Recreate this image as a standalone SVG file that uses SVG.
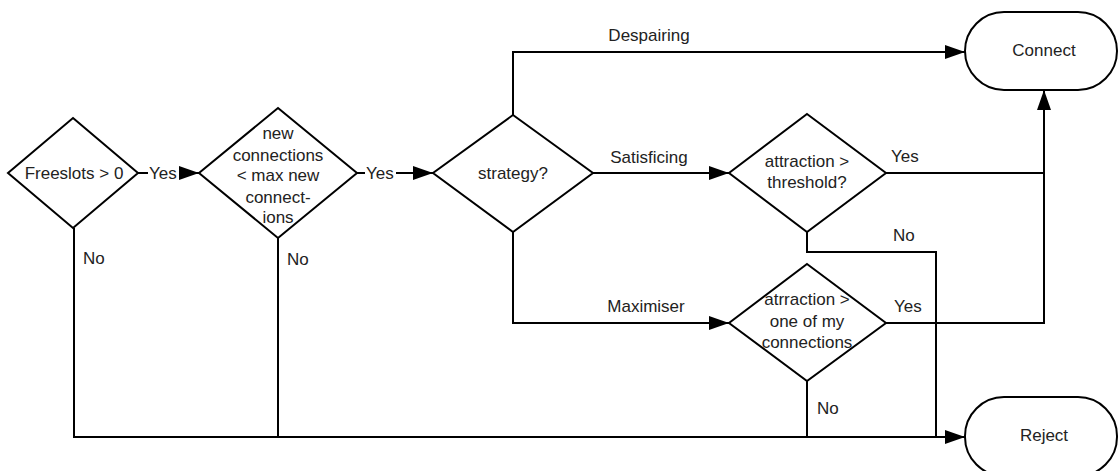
<svg xmlns="http://www.w3.org/2000/svg" width="1118" height="471" viewBox="0 0 1118 471">
  <style>
    .shape { fill: #ffffff; stroke: #000000; stroke-width: 2; }
    .edge { fill: none; stroke: #000000; stroke-width: 2; }
    text { font-family: "Liberation Sans", Arial, sans-serif; font-size: 17px; fill: #222222; }
    .c { text-anchor: middle; }
    .bg { fill: #ffffff; stroke: none; }
  </style>
  <defs>
    <marker id="arrow" viewBox="0 0 20 14" refX="20" refY="7" markerWidth="20" markerHeight="14" markerUnits="userSpaceOnUse" orient="auto">
      <path d="M0,0 L20,7 L0,14 Z" fill="#000000"/>
    </marker>
  </defs>
  <rect width="1118" height="471" fill="#ffffff"/>

  <g id="connectors">
    <!-- Freeslots -> new connections -->
    <path class="edge" d="M138,173 L199,173" marker-end="url(#arrow)"/>
    <!-- new connections -> strategy -->
    <path class="edge" d="M357,173 L433,173" marker-end="url(#arrow)"/>
    <!-- Despairing -->
    <path class="edge" d="M513,115 L513,52 L965,52" marker-end="url(#arrow)"/>
    <!-- Satisficing -->
    <path class="edge" d="M593,173 L729,173" marker-end="url(#arrow)"/>
    <!-- Maximiser -->
    <path class="edge" d="M513,232 L513,323 L729,323" marker-end="url(#arrow)"/>
    <!-- Yes branches into Connect -->
    <path class="edge" d="M886,173 L1044,173"/>
    <path class="edge" d="M886,323 L1044,323 L1044,90" marker-end="url(#arrow)"/>
    <!-- No from threshold -->
    <path class="edge" d="M807,232 L807,252 L936,252 L936,437"/>
    <!-- No from maximiser test -->
    <path class="edge" d="M807,381 L807,437"/>
    <!-- No from first two tests, shared line into Reject -->
    <path class="edge" d="M74,228 L74,437 L965,437" marker-end="url(#arrow)"/>
    <path class="edge" d="M278,238 L278,437"/>
    <!-- inline labels sit on the line over a white patch -->
    <rect class="bg" x="148" y="163" width="31" height="20"/>
    <text x="149" y="179">Yes</text>
    <rect class="bg" x="365" y="163" width="31" height="20"/>
    <text x="366" y="179">Yes</text>
    <text class="c" x="649" y="41">Despairing</text>
    <text class="c" x="649" y="163">Satisficing</text>
    <text class="c" x="646" y="312">Maximiser</text>
    <text x="891" y="162">Yes</text>
    <text x="894" y="312">Yes</text>
    <text x="893" y="241">No</text>
    <text x="817" y="414">No</text>
    <text x="83" y="264">No</text>
    <text x="287" y="265">No</text>
  </g>

  <g id="freeslots">
    <polygon class="shape" points="73,118 138,173 73,228 8,173"/>
    <text class="c" x="74" y="179">Freeslots &gt; 0</text>
  </g>

  <g id="new-connections">
    <polygon class="shape" points="278,108 357,173 278,238 199,173"/>
    <text class="c" x="278" y="139">new</text>
    <text class="c" x="278" y="161">connections</text>
    <text class="c" x="278" y="181">&lt; max new</text>
    <text class="c" x="278" y="203">connect-</text>
    <text class="c" x="278" y="223">ions</text>
  </g>

  <g id="strategy">
    <polygon class="shape" points="513,115 593,173 513,232 433,173"/>
    <text class="c" x="513" y="179">strategy?</text>
  </g>

  <g id="threshold">
    <polygon class="shape" points="807,114 886,173 807,232 729,173"/>
    <text class="c" x="807" y="167">attraction &gt;</text>
    <text class="c" x="807" y="188">threshold?</text>
  </g>

  <g id="maximiser-test">
    <polygon class="shape" points="807,264 886,323 807,381 729,323"/>
    <text class="c" x="807" y="305">atrraction &gt;</text>
    <text class="c" x="807" y="327">one of my</text>
    <text class="c" x="807" y="348">connections</text>
  </g>

  <g id="connect">
    <rect class="shape" x="965" y="12" width="152" height="78" rx="39" ry="39"/>
    <text class="c" x="1044" y="56">Connect</text>
  </g>

  <g id="reject">
    <rect class="shape" x="965" y="397" width="152" height="79" rx="39" ry="39"/>
    <text class="c" x="1044" y="441">Reject</text>
  </g>
</svg>
